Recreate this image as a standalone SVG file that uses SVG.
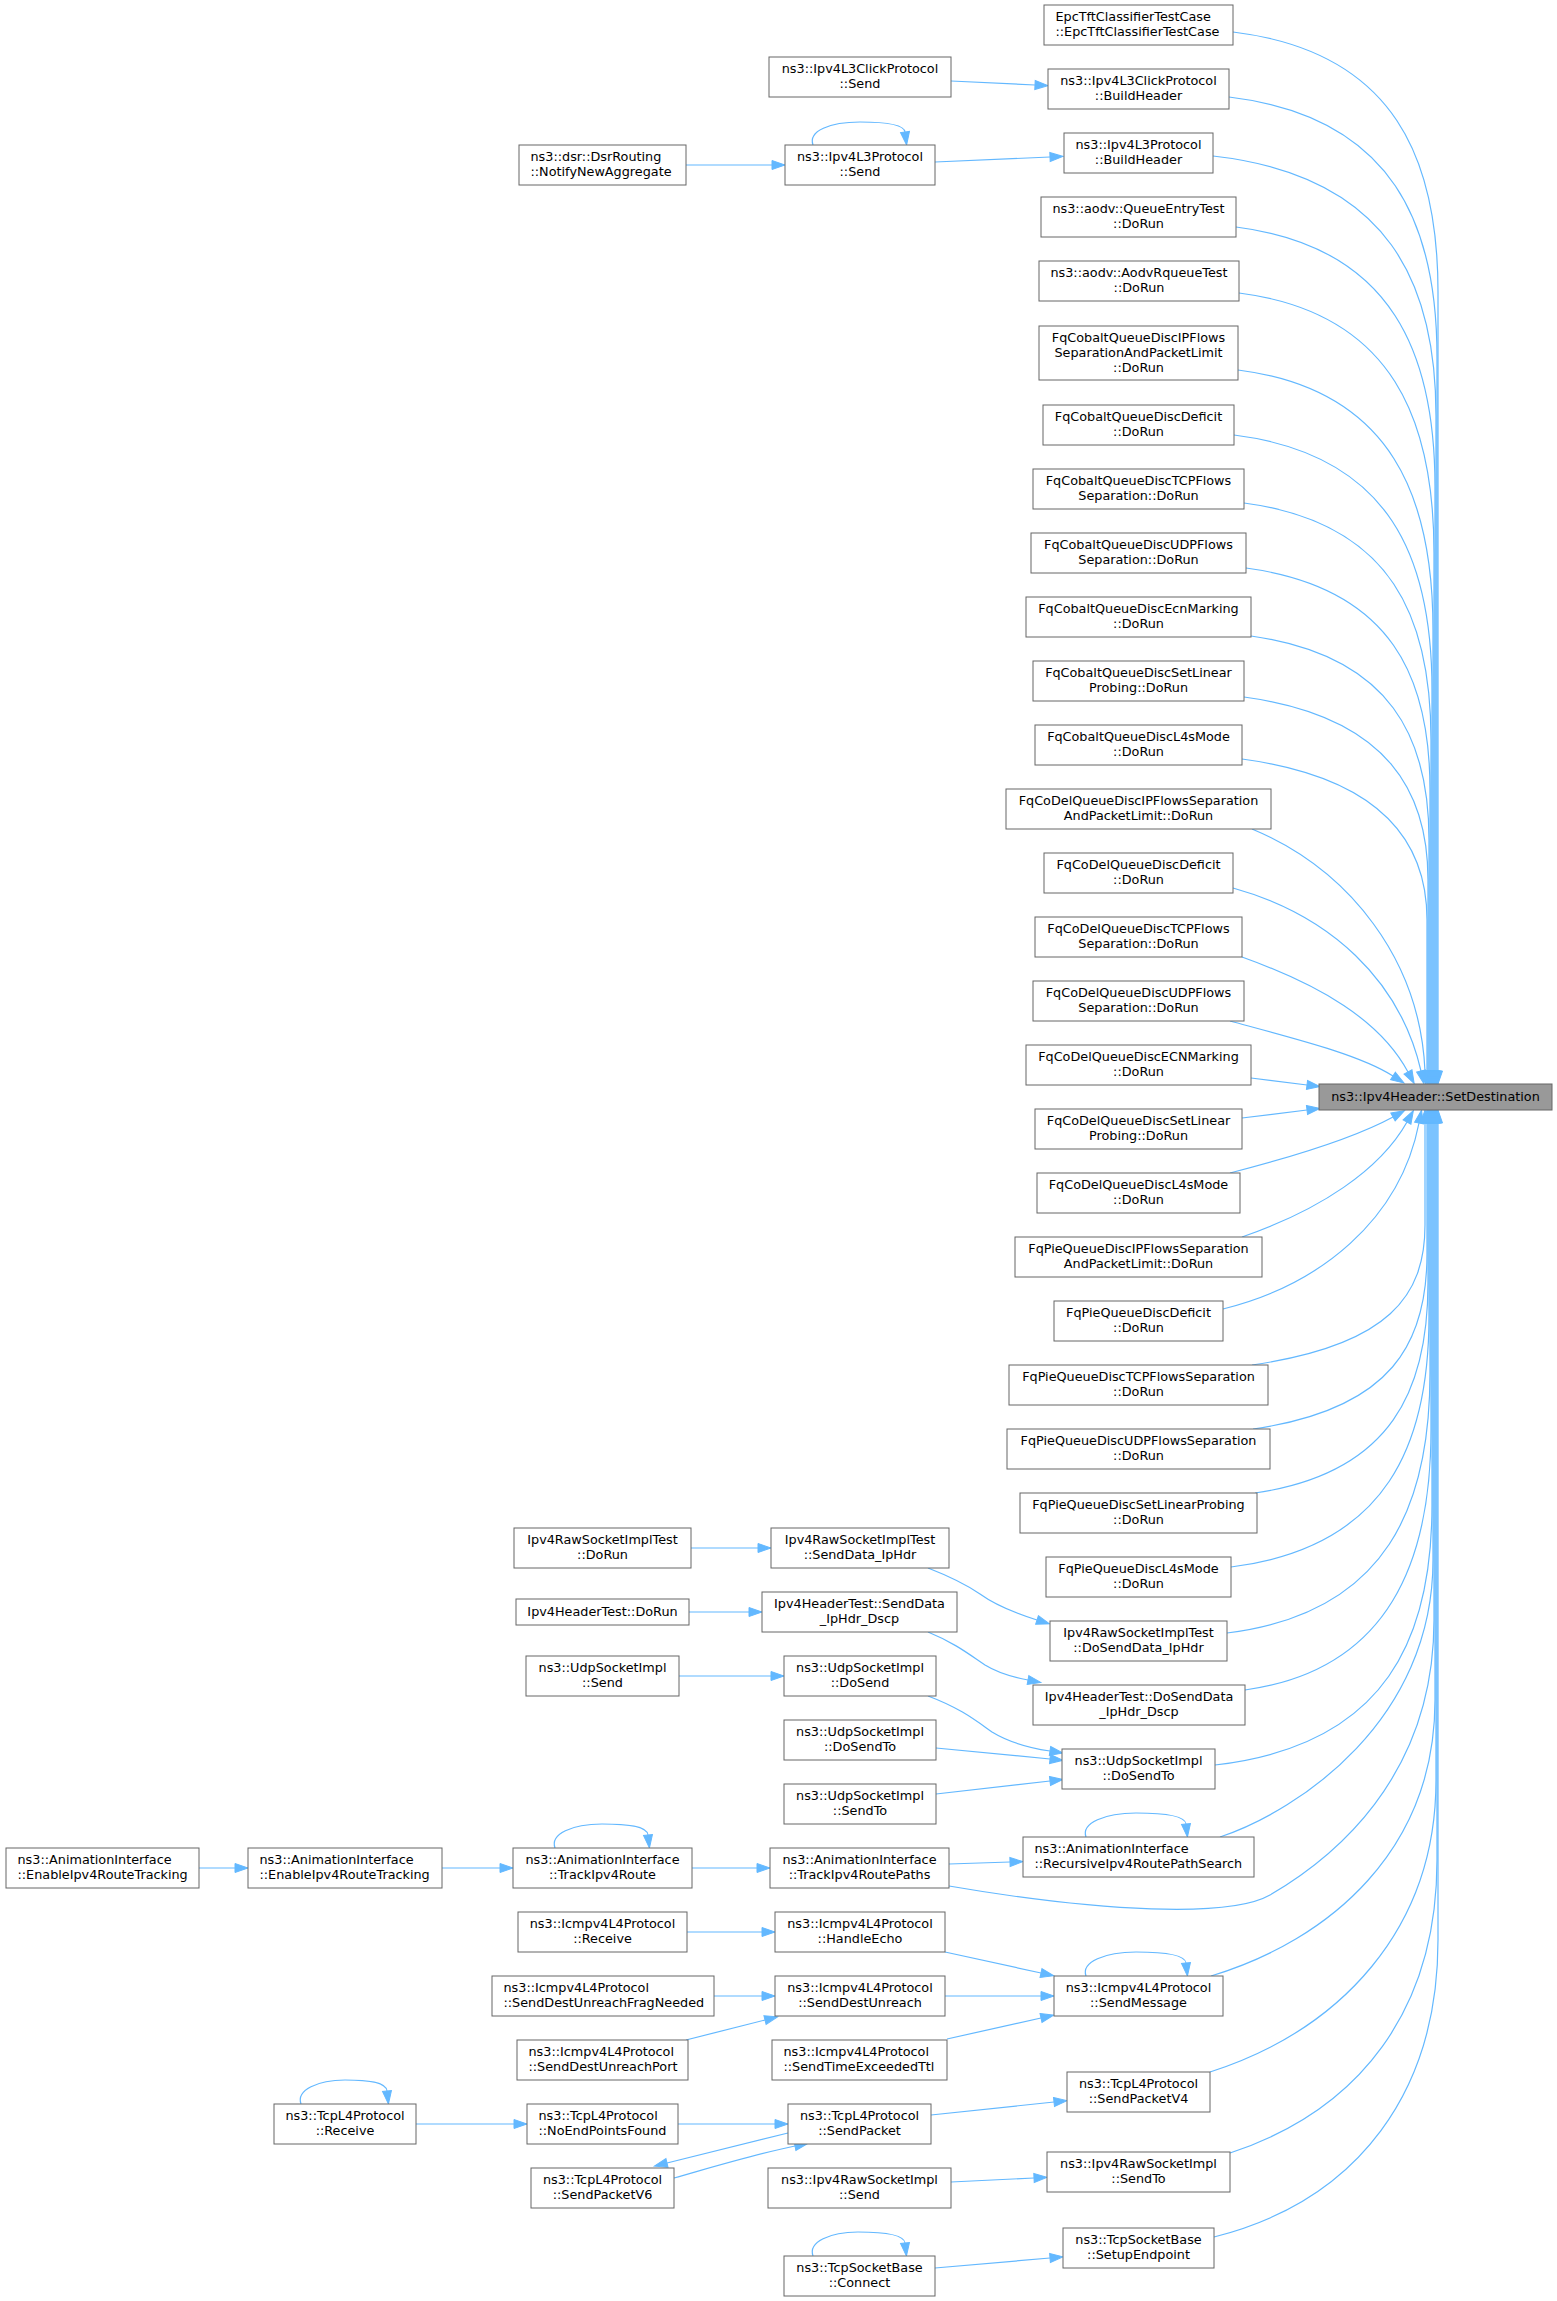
<svg xmlns="http://www.w3.org/2000/svg" width="1557" height="2301" viewBox="0 0 1557 2301">
<style>
.n rect{fill:#ffffff;stroke:#666666;stroke-width:1}
.m rect{fill:#999999;stroke:#666666;stroke-width:1}
text{font-family:"DejaVu Sans",sans-serif;font-size:12.8px;fill:#000000}
.c text{text-anchor:middle}
.l text{text-anchor:start}
#edges path{fill:none;stroke:#63b8ff;stroke-width:1.2;marker-end:url(#a)}
</style>
<defs>
<marker id="a" markerWidth="14" markerHeight="10" refX="0" refY="4.5" orient="auto" markerUnits="userSpaceOnUse" overflow="visible">
<path d="M0,0 L13,4.5 L0,9 z" fill="#63b8ff" stroke="#63b8ff" stroke-width="1"/>
</marker>
</defs>
<rect width="1557" height="2301" fill="#ffffff"/>
<g id="edges">
<path d="M1233,32 C1397,52 1438,162 1438,292 L1438,1071"/>
<path d="M1229,97 C1395,117 1437,227 1437,357 L1437,1071"/>
<path d="M1213,156 C1391,176 1436,286 1436,416 L1436,1071"/>
<path d="M1236,227 C1395,247 1435,357 1435,487 L1435,1071"/>
<path d="M1239,293 C1395,313 1434,423 1434,553 L1434,1071"/>
<path d="M1238,370 C1394,390 1433,500 1433,630 L1433,1071"/>
<path d="M1234,435 C1392,455 1432,560 1432,690 L1432,1071"/>
<path d="M1244,503 C1394,523 1431,620 1431,740 L1431,1071"/>
<path d="M1246,568 C1394,588 1430,680 1430,790 L1430,1071"/>
<path d="M1251,636 C1393,656 1429,740 1429,840 L1429,1071"/>
<path d="M1244,697 C1391,717 1428,795 1428,880 L1428,1071"/>
<path d="M1242,759 C1390,779 1427,850 1427,920 L1427,1071"/>
<path d="M1252,829 C1350,870 1420,960 1425,1071"/>
<path d="M1233,888 C1330,915 1400,980 1421,1071"/>
<path d="M1242,957 C1320,985 1380,1020 1408,1072"/>
<path d="M1230,1021 C1300,1040 1360,1055 1393,1076"/>
<path d="M1251,1078 L1307,1085"/>
<path d="M1242,1118 L1307,1110"/>
<path d="M1230,1173 C1300,1155 1360,1135 1393,1117"/>
<path d="M1242,1237 C1320,1210 1380,1170 1407,1122"/>
<path d="M1223,1309 C1320,1285 1400,1220 1419,1123"/>
<path d="M1252,1365 C1390,1345 1425,1295 1425,1225 L1425,1123"/>
<path d="M1253,1429 C1393,1409 1427,1342 1427,1254 L1427,1123"/>
<path d="M1255,1493 C1393,1473 1428,1388 1428,1283 L1428,1123"/>
<path d="M1231,1567 C1389,1547 1429,1442 1429,1316 L1429,1123"/>
<path d="M1227,1633 C1389,1613 1430,1503 1430,1373 L1430,1123"/>
<path d="M1245,1690 C1390,1670 1431,1560 1431,1430 L1431,1123"/>
<path d="M1215,1765 C1389,1745 1432,1635 1432,1505 L1432,1123"/>
<path d="M1220,1837 C1300,1810 1433,1720 1433,1560 L1433,1123"/>
<path d="M949,1886 C1100,1912 1230,1918 1270,1895 C1330,1860 1434,1780 1434,1620 L1434,1123"/>
<path d="M1211,1976 C1330,1940 1435,1850 1435,1700 L1435,1123"/>
<path d="M1210,2072 C1340,2030 1436,1930 1436,1780 L1436,1123"/>
<path d="M1230,2153 C1360,2110 1437,2010 1437,1860 L1437,1123"/>
<path d="M1214,2237 C1360,2200 1438,2090 1438,1940 L1438,1123"/>
<path d="M951,81 L1035,85"/>
<path d="M935,162 L1050,157"/>
<path d="M813,145 C808,131 830,122 860,122 C885,122 904,124 905,132"/>
<path d="M686,165 L772,165"/>
<path d="M691,1548 L758,1548"/>
<path d="M689,1612 L749,1612"/>
<path d="M928,1568 C946,1575 964,1583 980,1594 C998,1607 1018,1614 1037,1620"/>
<path d="M928,1632 C955,1643 970,1655 985,1665 C998,1673 1012,1677 1028,1680"/>
<path d="M679,1676 L771,1676"/>
<path d="M928,1696 C960,1708 975,1720 992,1732 C1010,1743 1030,1748 1050,1751"/>
<path d="M936,1748 L1050,1759"/>
<path d="M936,1794 L1050,1781"/>
<path d="M199,1868 L235,1868"/>
<path d="M442,1868 L500,1868"/>
<path d="M555,1848 C550,1834 572,1824 602,1824 C627,1824 647,1826 648,1835"/>
<path d="M692,1868 L757,1868"/>
<path d="M949,1864 L1010,1862"/>
<path d="M1086,1837 C1081,1823 1105,1813 1136,1813 C1162,1813 1185,1815 1186,1824"/>
<path d="M687,1932 L762,1932"/>
<path d="M945,1952 L1041,1973"/>
<path d="M1086,1976 C1081,1962 1105,1952 1136,1952 C1162,1952 1185,1954 1186,1963"/>
<path d="M714,1996 L762,1996"/>
<path d="M686,2040 L765,2020"/>
<path d="M945,1996 L1041,1996"/>
<path d="M947,2039 L1041,2018"/>
<path d="M301,2104 C296,2090 318,2080 345,2080 C368,2080 386,2082 387,2091"/>
<path d="M416,2124 L514,2124"/>
<path d="M678,2124 L775,2124"/>
<path d="M788,2133 C740,2145 700,2155 667,2163"/>
<path d="M674,2178 C720,2165 760,2153 795,2146"/>
<path d="M931,2115 L1054,2102"/>
<path d="M951,2182 L1034,2178"/>
<path d="M813,2256 C808,2242 830,2232 858,2232 C883,2232 904,2234 905,2243"/>
<path d="M935,2268 L1050,2258"/>
</g>
<g id="n_main" class="m c"><rect x="1319" y="1084" width="233" height="26"/><text x="1435.5" y="1101">ns3::Ipv4Header::SetDestination</text></g>
<g id="n_epc" class="n l"><rect x="1044" y="5" width="189" height="40"/><text x="1055.5" y="21">EpcTftClassifierTestCase</text><text x="1055.5" y="36">::EpcTftClassifierTestCase</text></g>
<g id="n_clicksend" class="n c"><rect x="769" y="57" width="182" height="40"/><text x="860" y="73">ns3::Ipv4L3ClickProtocol</text><text x="860" y="88">::Send</text></g>
<g id="n_clickbuild" class="n c"><rect x="1048" y="69" width="181" height="40"/><text x="1138.5" y="85">ns3::Ipv4L3ClickProtocol</text><text x="1138.5" y="100">::BuildHeader</text></g>
<g id="n_dsr" class="n l"><rect x="519" y="145" width="167" height="40"/><text x="530.5" y="161">ns3::dsr::DsrRouting</text><text x="530.5" y="176">::NotifyNewAggregate</text></g>
<g id="n_l3send" class="n c"><rect x="785" y="145" width="150" height="40"/><text x="860" y="161">ns3::Ipv4L3Protocol</text><text x="860" y="176">::Send</text></g>
<g id="n_l3build" class="n c"><rect x="1064" y="133" width="149" height="40"/><text x="1138.5" y="149">ns3::Ipv4L3Protocol</text><text x="1138.5" y="164">::BuildHeader</text></g>
<g id="n_queueentry" class="n c"><rect x="1041" y="197" width="195" height="40"/><text x="1138.5" y="213">ns3::aodv::QueueEntryTest</text><text x="1138.5" y="228">::DoRun</text></g>
<g id="n_aodvrq" class="n c"><rect x="1039" y="261" width="200" height="40"/><text x="1139" y="277">ns3::aodv::AodvRqueueTest</text><text x="1139" y="292">::DoRun</text></g>
<g id="n_cobaltip" class="n c"><rect x="1039" y="326" width="199" height="54"/><text x="1138.5" y="342">FqCobaltQueueDiscIPFlows</text><text x="1138.5" y="357">SeparationAndPacketLimit</text><text x="1138.5" y="372">::DoRun</text></g>
<g id="n_cobaltdef" class="n c"><rect x="1043" y="405" width="191" height="40"/><text x="1138.5" y="421">FqCobaltQueueDiscDeficit</text><text x="1138.5" y="436">::DoRun</text></g>
<g id="n_cobalttcp" class="n c"><rect x="1033" y="469" width="211" height="40"/><text x="1138.5" y="485">FqCobaltQueueDiscTCPFlows</text><text x="1138.5" y="500">Separation::DoRun</text></g>
<g id="n_cobaltudp" class="n c"><rect x="1031" y="533" width="215" height="40"/><text x="1138.5" y="549">FqCobaltQueueDiscUDPFlows</text><text x="1138.5" y="564">Separation::DoRun</text></g>
<g id="n_cobaltecn" class="n c"><rect x="1026" y="597" width="225" height="40"/><text x="1138.5" y="613">FqCobaltQueueDiscEcnMarking</text><text x="1138.5" y="628">::DoRun</text></g>
<g id="n_cobaltlin" class="n c"><rect x="1033" y="661" width="211" height="40"/><text x="1138.5" y="677">FqCobaltQueueDiscSetLinear</text><text x="1138.5" y="692">Probing::DoRun</text></g>
<g id="n_cobaltl4s" class="n c"><rect x="1035" y="725" width="207" height="40"/><text x="1138.5" y="741">FqCobaltQueueDiscL4sMode</text><text x="1138.5" y="756">::DoRun</text></g>
<g id="n_codelip" class="n c"><rect x="1006" y="789" width="265" height="40"/><text x="1138.5" y="805">FqCoDelQueueDiscIPFlowsSeparation</text><text x="1138.5" y="820">AndPacketLimit::DoRun</text></g>
<g id="n_codeldef" class="n c"><rect x="1044" y="853" width="189" height="40"/><text x="1138.5" y="869">FqCoDelQueueDiscDeficit</text><text x="1138.5" y="884">::DoRun</text></g>
<g id="n_codeltcp" class="n c"><rect x="1035" y="917" width="207" height="40"/><text x="1138.5" y="933">FqCoDelQueueDiscTCPFlows</text><text x="1138.5" y="948">Separation::DoRun</text></g>
<g id="n_codeludp" class="n c"><rect x="1033" y="981" width="211" height="40"/><text x="1138.5" y="997">FqCoDelQueueDiscUDPFlows</text><text x="1138.5" y="1012">Separation::DoRun</text></g>
<g id="n_codelecn" class="n c"><rect x="1026" y="1045" width="225" height="40"/><text x="1138.5" y="1061">FqCoDelQueueDiscECNMarking</text><text x="1138.5" y="1076">::DoRun</text></g>
<g id="n_codellin" class="n c"><rect x="1035" y="1109" width="207" height="40"/><text x="1138.5" y="1125">FqCoDelQueueDiscSetLinear</text><text x="1138.5" y="1140">Probing::DoRun</text></g>
<g id="n_codell4s" class="n c"><rect x="1037" y="1173" width="203" height="40"/><text x="1138.5" y="1189">FqCoDelQueueDiscL4sMode</text><text x="1138.5" y="1204">::DoRun</text></g>
<g id="n_pieip" class="n c"><rect x="1015" y="1237" width="247" height="40"/><text x="1138.5" y="1253">FqPieQueueDiscIPFlowsSeparation</text><text x="1138.5" y="1268">AndPacketLimit::DoRun</text></g>
<g id="n_piedef" class="n c"><rect x="1054" y="1301" width="169" height="40"/><text x="1138.5" y="1317">FqPieQueueDiscDeficit</text><text x="1138.5" y="1332">::DoRun</text></g>
<g id="n_pietcp" class="n c"><rect x="1009" y="1365" width="259" height="40"/><text x="1138.5" y="1381">FqPieQueueDiscTCPFlowsSeparation</text><text x="1138.5" y="1396">::DoRun</text></g>
<g id="n_pieudp" class="n c"><rect x="1007" y="1429" width="263" height="40"/><text x="1138.5" y="1445">FqPieQueueDiscUDPFlowsSeparation</text><text x="1138.5" y="1460">::DoRun</text></g>
<g id="n_pielin" class="n c"><rect x="1020" y="1493" width="237" height="40"/><text x="1138.5" y="1509">FqPieQueueDiscSetLinearProbing</text><text x="1138.5" y="1524">::DoRun</text></g>
<g id="n_piel4s" class="n c"><rect x="1046" y="1557" width="185" height="40"/><text x="1138.5" y="1573">FqPieQueueDiscL4sMode</text><text x="1138.5" y="1588">::DoRun</text></g>
<g id="n_rawtestdorun" class="n c"><rect x="514" y="1528" width="177" height="40"/><text x="602.5" y="1544">Ipv4RawSocketImplTest</text><text x="602.5" y="1559">::DoRun</text></g>
<g id="n_rawtestsend" class="n c"><rect x="771" y="1528" width="178" height="40"/><text x="860" y="1544">Ipv4RawSocketImplTest</text><text x="860" y="1559">::SendData_IpHdr</text></g>
<g id="n_hdrtestdorun" class="n c"><rect x="516" y="1599" width="173" height="26"/><text x="602.5" y="1616">Ipv4HeaderTest::DoRun</text></g>
<g id="n_hdrtestsend" class="n c"><rect x="762" y="1592" width="195" height="40"/><text x="859.5" y="1608">Ipv4HeaderTest::SendData</text><text x="859.5" y="1623">_IpHdr_Dscp</text></g>
<g id="n_rawtestdosend" class="n c"><rect x="1050" y="1621" width="177" height="40"/><text x="1138.5" y="1637">Ipv4RawSocketImplTest</text><text x="1138.5" y="1652">::DoSendData_IpHdr</text></g>
<g id="n_hdrtestdosend" class="n c"><rect x="1033" y="1685" width="212" height="40"/><text x="1139" y="1701">Ipv4HeaderTest::DoSendData</text><text x="1139" y="1716">_IpHdr_Dscp</text></g>
<g id="n_udpsend" class="n c"><rect x="526" y="1656" width="153" height="40"/><text x="602.5" y="1672">ns3::UdpSocketImpl</text><text x="602.5" y="1687">::Send</text></g>
<g id="n_udpdosend" class="n c"><rect x="784" y="1656" width="152" height="40"/><text x="860" y="1672">ns3::UdpSocketImpl</text><text x="860" y="1687">::DoSend</text></g>
<g id="n_udpdosendto1" class="n c"><rect x="784" y="1720" width="152" height="40"/><text x="860" y="1736">ns3::UdpSocketImpl</text><text x="860" y="1751">::DoSendTo</text></g>
<g id="n_udpsendto" class="n c"><rect x="784" y="1784" width="152" height="40"/><text x="860" y="1800">ns3::UdpSocketImpl</text><text x="860" y="1815">::SendTo</text></g>
<g id="n_udpdosendto2" class="n c"><rect x="1062" y="1749" width="153" height="40"/><text x="1138.5" y="1765">ns3::UdpSocketImpl</text><text x="1138.5" y="1780">::DoSendTo</text></g>
<g id="n_recursive" class="n l"><rect x="1023" y="1837" width="231" height="40"/><text x="1034.5" y="1853">ns3::AnimationInterface</text><text x="1034.5" y="1868">::RecursiveIpv4RoutePathSearch</text></g>
<g id="n_enable1" class="n l"><rect x="6" y="1848" width="193" height="40"/><text x="17.5" y="1864">ns3::AnimationInterface</text><text x="17.5" y="1879">::EnableIpv4RouteTracking</text></g>
<g id="n_enable2" class="n l"><rect x="248" y="1848" width="194" height="40"/><text x="259.5" y="1864">ns3::AnimationInterface</text><text x="259.5" y="1879">::EnableIpv4RouteTracking</text></g>
<g id="n_trackroute" class="n c"><rect x="513" y="1848" width="179" height="40"/><text x="602.5" y="1864">ns3::AnimationInterface</text><text x="602.5" y="1879">::TrackIpv4Route</text></g>
<g id="n_trackpaths" class="n c"><rect x="770" y="1848" width="179" height="40"/><text x="859.5" y="1864">ns3::AnimationInterface</text><text x="859.5" y="1879">::TrackIpv4RoutePaths</text></g>
<g id="n_icmprecv" class="n c"><rect x="518" y="1912" width="169" height="40"/><text x="602.5" y="1928">ns3::Icmpv4L4Protocol</text><text x="602.5" y="1943">::Receive</text></g>
<g id="n_handleecho" class="n c"><rect x="775" y="1912" width="170" height="40"/><text x="860" y="1928">ns3::Icmpv4L4Protocol</text><text x="860" y="1943">::HandleEcho</text></g>
<g id="n_fragneeded" class="n l"><rect x="492" y="1976" width="222" height="40"/><text x="503.5" y="1992">ns3::Icmpv4L4Protocol</text><text x="503.5" y="2007">::SendDestUnreachFragNeeded</text></g>
<g id="n_destunreach" class="n c"><rect x="775" y="1976" width="170" height="40"/><text x="860" y="1992">ns3::Icmpv4L4Protocol</text><text x="860" y="2007">::SendDestUnreach</text></g>
<g id="n_sendmessage" class="n c"><rect x="1054" y="1976" width="169" height="40"/><text x="1138.5" y="1992">ns3::Icmpv4L4Protocol</text><text x="1138.5" y="2007">::SendMessage</text></g>
<g id="n_unreachport" class="n l"><rect x="517" y="2040" width="171" height="40"/><text x="528.5" y="2056">ns3::Icmpv4L4Protocol</text><text x="528.5" y="2071">::SendDestUnreachPort</text></g>
<g id="n_timeexceeded" class="n l"><rect x="772" y="2040" width="175" height="40"/><text x="783.5" y="2056">ns3::Icmpv4L4Protocol</text><text x="783.5" y="2071">::SendTimeExceededTtl</text></g>
<g id="n_sendpacketv4" class="n c"><rect x="1067" y="2072" width="143" height="40"/><text x="1138.5" y="2088">ns3::TcpL4Protocol</text><text x="1138.5" y="2103">::SendPacketV4</text></g>
<g id="n_tcpreceive" class="n c"><rect x="274" y="2104" width="142" height="40"/><text x="345" y="2120">ns3::TcpL4Protocol</text><text x="345" y="2135">::Receive</text></g>
<g id="n_noendpoints" class="n l"><rect x="527" y="2104" width="151" height="40"/><text x="538.5" y="2120">ns3::TcpL4Protocol</text><text x="538.5" y="2135">::NoEndPointsFound</text></g>
<g id="n_sendpacket" class="n c"><rect x="788" y="2104" width="143" height="40"/><text x="859.5" y="2120">ns3::TcpL4Protocol</text><text x="859.5" y="2135">::SendPacket</text></g>
<g id="n_rawsendto" class="n c"><rect x="1047" y="2152" width="183" height="40"/><text x="1138.5" y="2168">ns3::Ipv4RawSocketImpl</text><text x="1138.5" y="2183">::SendTo</text></g>
<g id="n_sendpacketv6" class="n c"><rect x="531" y="2168" width="143" height="40"/><text x="602.5" y="2184">ns3::TcpL4Protocol</text><text x="602.5" y="2199">::SendPacketV6</text></g>
<g id="n_rawsend" class="n c"><rect x="768" y="2168" width="183" height="40"/><text x="859.5" y="2184">ns3::Ipv4RawSocketImpl</text><text x="859.5" y="2199">::Send</text></g>
<g id="n_setupendpoint" class="n c"><rect x="1063" y="2228" width="151" height="40"/><text x="1138.5" y="2244">ns3::TcpSocketBase</text><text x="1138.5" y="2259">::SetupEndpoint</text></g>
<g id="n_connect" class="n c"><rect x="784" y="2256" width="151" height="40"/><text x="859.5" y="2272">ns3::TcpSocketBase</text><text x="859.5" y="2287">::Connect</text></g>
</svg>
